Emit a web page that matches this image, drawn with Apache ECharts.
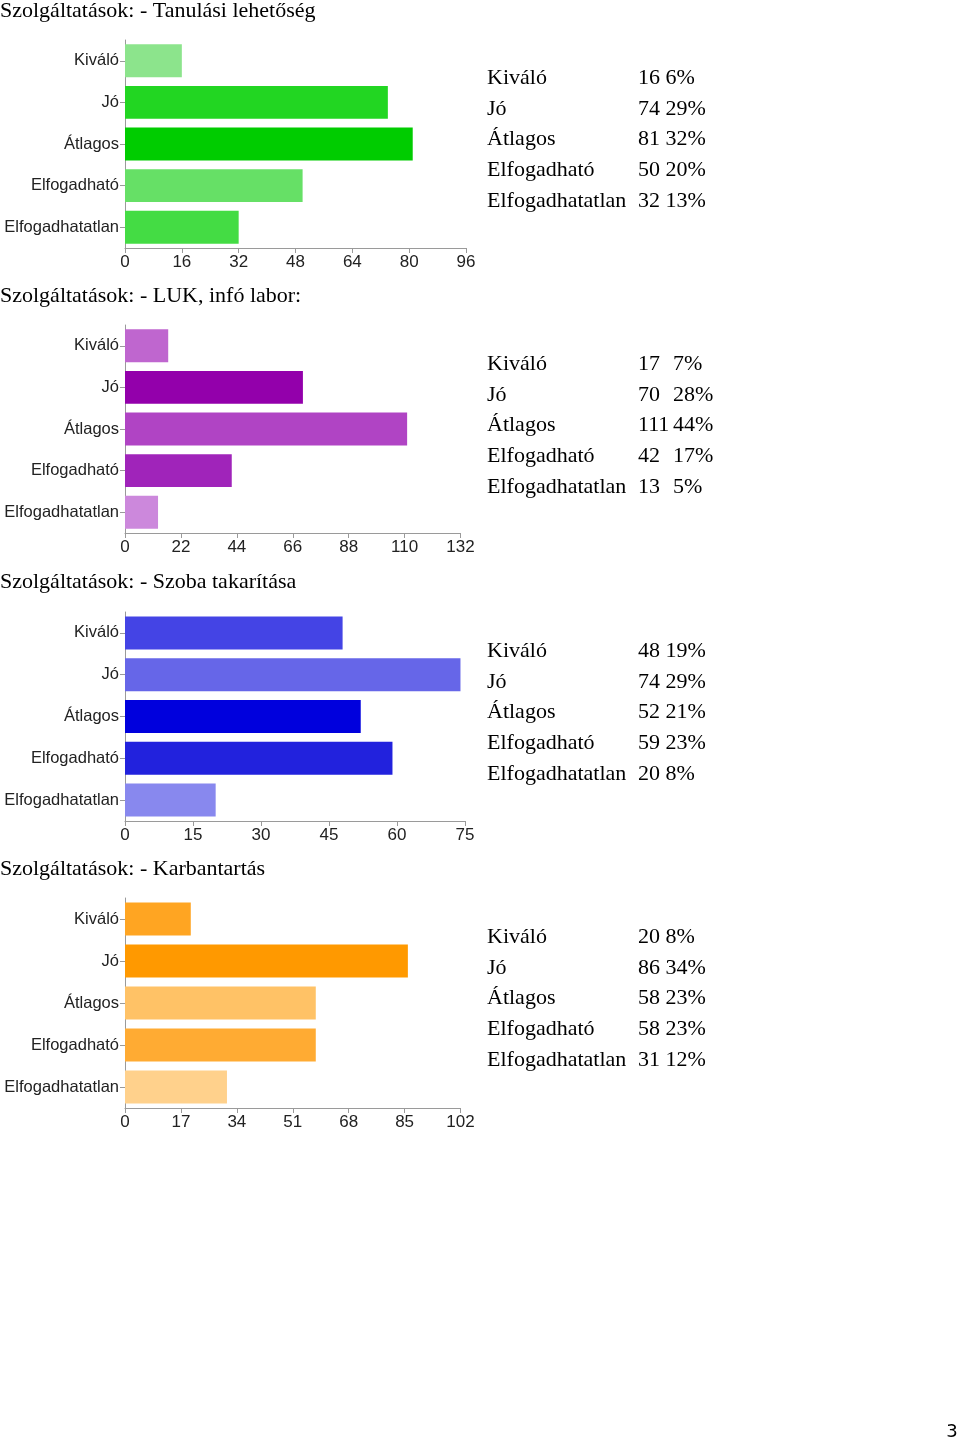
<!DOCTYPE html>
<html>
<head>
<meta charset="utf-8">
<script src="https://cdn.jsdelivr.net/npm/echarts@6/dist/echarts.min.js"></script>
<style>
html,body{margin:0;padding:0;background:#fff;}
#c{width:960px;height:1442px;}
</style>
</head>
<body>
<div id="c"></div>
<script>
// ---- data ----
const categories = ['Kiváló', 'Jó', 'Átlagos', 'Elfogadható', 'Elfogadhatatlan'];

const titles = [
  'Szolgáltatások: - Tanulási lehetőség',
  'Szolgáltatások: - LUK, infó labor:',
  'Szolgáltatások: - Szoba takarítása',
  'Szolgáltatások: - Karbantartás'
];

const valuesTanulas = [16, 74, 81, 50, 32];
const valuesLuk = [17, 70, 111, 42, 13];
const valuesSzoba = [48, 74, 52, 59, 20];
const valuesKarban = [20, 86, 58, 58, 31];

const pctTanulas = [6, 29, 32, 20, 13];
const pctLuk = [7, 28, 44, 17, 5];
const pctSzoba = [19, 29, 21, 23, 8];
const pctKarban = [8, 34, 23, 23, 12];

const axisMax = [96, 132, 75, 102];
const axisInterval = [16, 22, 15, 17];

const pageNumber = '3';

// ---- styling / layout ----
const colorsTanulas = ['#8ce48c', '#22d622', '#00cc00', '#66e066', '#44dc44'];
const colorsLuk = ['#bf66cf', '#9300ab', '#b044c4', '#a024ba', '#cc88dc'];
const colorsSzoba = ['#4444e5', '#6666e8', '#0000dd', '#2222dd', '#8888ee'];
const colorsKarban = ['#ffa522', '#ff9900', '#ffc266', '#ffab33', '#ffd18c'];

const allValues = [valuesTanulas, valuesLuk, valuesSzoba, valuesKarban];
const allPcts = [pctTanulas, pctLuk, pctSzoba, pctKarban];
const allColors = [colorsTanulas, colorsLuk, colorsSzoba, colorsKarban];

const gridTops = [40, 325, 612, 898];
const gridHeights = [208, 208, 209, 210];
const gridWidths = [341, 335.5, 340, 335.5];
const titleYs = [11, 296, 582, 869];
const tableYs = [78, 364, 651, 937];
const rowStep = 30.8;
const columnTable = [false, true, false, false];

const serif = '"Liberation Serif", "Times New Roman", serif';
const sans = '"Liberation Sans", Arial, Helvetica, sans-serif';
const serifSize = 22;

const grid = [], xAxis = [], yAxis = [], series = [], graphic = [];

for (let i = 0; i < 4; i++) {
  grid.push({left: 125, top: gridTops[i], width: gridWidths[i], height: gridHeights[i], containLabel: false});
  xAxis.push({
    type: 'value', gridIndex: i, min: 0, max: axisMax[i], interval: axisInterval[i],
    axisLine: {show: true, lineStyle: {color: '#9a9a9a', width: 1}},
    axisTick: {show: true, length: 5, lineStyle: {color: '#9a9a9a'}},
    splitLine: {show: false},
    axisLabel: {color: '#222', fontFamily: sans, fontSize: 17, margin: 6}
  });
  yAxis.push({
    type: 'category', gridIndex: i, data: categories, inverse: true,
    axisLine: {show: true, lineStyle: {color: '#9a9a9a', width: 1}},
    axisTick: {show: true, alignWithLabel: true, length: 5, lineStyle: {color: '#9a9a9a'}},
    axisLabel: {color: '#222', fontFamily: sans, fontSize: 16.5, margin: 6}
  });
  series.push({
    type: 'bar', xAxisIndex: i, yAxisIndex: i,
    barCategoryGap: '21%',
    data: allValues[i].map((v, k) => ({value: v, itemStyle: {color: allColors[i][k]}})),
    silent: true, animation: false
  });
  graphic.push({
    type: 'text', x: 0, y: titleYs[i],
    style: {text: titles[i], font: serifSize + 'px ' + serif, fill: '#000', textVerticalAlign: 'middle'}
  });
  for (let k = 0; k < categories.length; k++) {
    const y = tableYs[i] + k * rowStep;
    const f = serifSize + 'px ' + serif;
    graphic.push({type: 'text', x: 487, y: y,
      style: {text: categories[k], font: f, fill: '#000', textVerticalAlign: 'middle'}});
    if (columnTable[i]) {
      graphic.push({type: 'text', x: 638, y: y,
        style: {text: String(allValues[i][k]), font: f, fill: '#000', textVerticalAlign: 'middle'}});
      graphic.push({type: 'text', x: 673, y: y,
        style: {text: allPcts[i][k] + '%', font: f, fill: '#000', textVerticalAlign: 'middle'}});
    } else {
      graphic.push({type: 'text', x: 638, y: y,
        style: {text: allValues[i][k] + ' ' + allPcts[i][k] + '%', font: f, fill: '#000', textVerticalAlign: 'middle'}});
    }
  }
}
graphic.push({type: 'text', x: 952, y: 1432,
  style: {text: pageNumber, font: '18px "DejaVu Sans", sans-serif', fill: '#000', textAlign: 'center', textVerticalAlign: 'middle'}});

const chart = echarts.init(document.getElementById('c'), null, {renderer: 'canvas'});
chart.setOption({animation: false, backgroundColor: '#fff', grid, xAxis, yAxis, series, graphic});
</script>
</body>
</html>
